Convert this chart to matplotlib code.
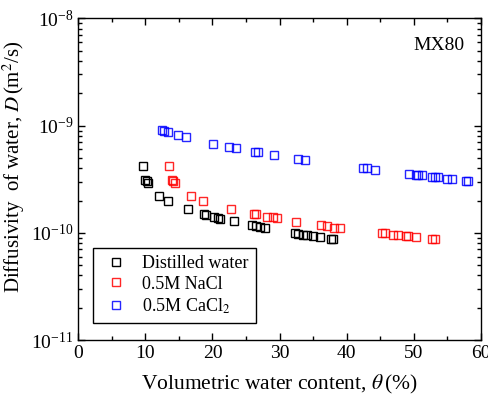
import matplotlib as mpl
mpl.use('Agg')
import matplotlib.pyplot as plt
from matplotlib.ticker import LogLocator, MultipleLocator, NullFormatter

theta_dw = [9.69, 9.98, 10.18, 10.33, 12.02, 13.31, 16.29, 18.73, 18.98, 20.17, 20.77, 21.16,
            23.25, 25.83, 26.48, 27.07, 27.82, 32.24, 32.69, 33.53, 34.03, 35.02, 36.02, 37.66, 38.0]
D_dw = [4.23e-10, 3.10e-10, 3.04e-10, 2.89e-10, 2.20e-10, 1.98e-10, 1.65e-10, 1.49e-10, 1.48e-10,
        1.40e-10, 1.38e-10, 1.35e-10, 1.28e-10, 1.18e-10, 1.15e-10, 1.13e-10, 1.11e-10, 9.95e-11,
        9.8e-11, 9.6e-11, 9.55e-11, 9.3e-11, 9.1e-11, 8.75e-11, 8.7e-11]

theta_nacl = [13.51, 13.96, 14.16, 14.41, 16.79, 18.58, 22.7, 26.18, 26.48, 28.17, 28.96, 29.66,
              32.44, 36.17, 37.11, 38.05, 38.95, 45.26, 45.65, 46.95, 47.59, 48.88, 49.08, 50.27,
              52.71, 53.2]
D_nacl = [4.23e-10, 3.10e-10, 3.05e-10, 2.90e-10, 2.20e-10, 1.98e-10, 1.65e-10, 1.49e-10, 1.49e-10,
          1.41e-10, 1.39e-10, 1.36e-10, 1.27e-10, 1.18e-10, 1.15e-10, 1.12e-10, 1.11e-10, 9.95e-11,
          9.9e-11, 9.6e-11, 9.55e-11, 9.3e-11, 9.25e-11, 9.1e-11, 8.75e-11, 8.7e-11]

theta_cacl = [12.42, 12.72, 13.41, 14.9, 16.0, 20.07, 22.45, 23.45, 26.33, 26.83, 29.16, 32.74,
              33.78, 42.42, 43.07, 44.21, 49.23, 50.27, 50.57, 51.27, 52.76, 53.15, 53.65, 54.89,
              55.74, 57.73, 58.02]
D_cacl = [9.03e-10, 8.95e-10, 8.65e-10, 8.1e-10, 7.76e-10, 6.78e-10, 6.31e-10, 6.13e-10, 5.71e-10,
          5.65e-10, 5.32e-10, 4.88e-10, 4.81e-10, 4.05e-10, 4.0e-10, 3.88e-10, 3.53e-10, 3.48e-10,
          3.46e-10, 3.43e-10, 3.34e-10, 3.33e-10, 3.30e-10, 3.20e-10, 3.16e-10, 3.04e-10, 3.02e-10]

mpl.rcParams.update({
    "font.family": "Liberation Serif",
    "mathtext.fontset": "stix",
    "font.size": 14,
    "xtick.labelsize": 14,
    "ytick.labelsize": 14,
})

fig = plt.figure(figsize=(4.89, 4.0), dpi=100)
ax = fig.add_axes([0.160, 0.150, 0.8236, 0.804])

style = dict(marker='s', linestyle='none', mfc='none', markersize=6, mew=1.0)
ax.plot(theta_dw, D_dw, color='black', label='Distilled water', **style)
ax.plot(theta_nacl, D_nacl, color='#ff0000', alpha=0.85, label='0.5M NaCl', **style)
ax.plot(theta_cacl, D_cacl, color='#0000ff', alpha=0.85, label='0.5M CaCl$_2$', **style)

ax.set_yscale('log')
ax.set_xlim(0, 60)
ax.set_ylim(1e-11, 1e-8)
ax.xaxis.set_major_locator(MultipleLocator(10))
ax.xaxis.set_minor_locator(MultipleLocator(5))
ax.yaxis.set_major_locator(LogLocator(base=10))
ax.yaxis.set_minor_locator(LogLocator(base=10, subs=range(2, 10)))
ax.yaxis.set_minor_formatter(NullFormatter())
ax.tick_params(which='both', direction='in', top=True, right=True, width=1)
ax.tick_params(which='major', length=5)
ax.tick_params(which='minor', length=3)
for sp in ax.spines.values():
    sp.set_linewidth(1.0)

ax.set_xlabel(r'Volumetric water content, $\theta\,$(%)', fontsize=15.5, labelpad=8)
ax.set_ylabel(r'Diffusivity  of water, $D\,$(m$^2$/s)', fontsize=15)
ax.yaxis.set_label_coords(-0.127, 0.538)
ax.text(0.958, 0.915, 'MX80', transform=ax.transAxes, ha='right', va='center', fontsize=14)

leg = ax.legend(loc='lower left', bbox_to_anchor=(0.036, 0.053), borderaxespad=0,
                fancybox=False, framealpha=1, edgecolor='black', fontsize=13,
                handlelength=1.8, handletextpad=0.55, labelspacing=0.2)
leg.get_frame().set_linewidth(1.0)

plt.savefig('out.png', dpi=100)
